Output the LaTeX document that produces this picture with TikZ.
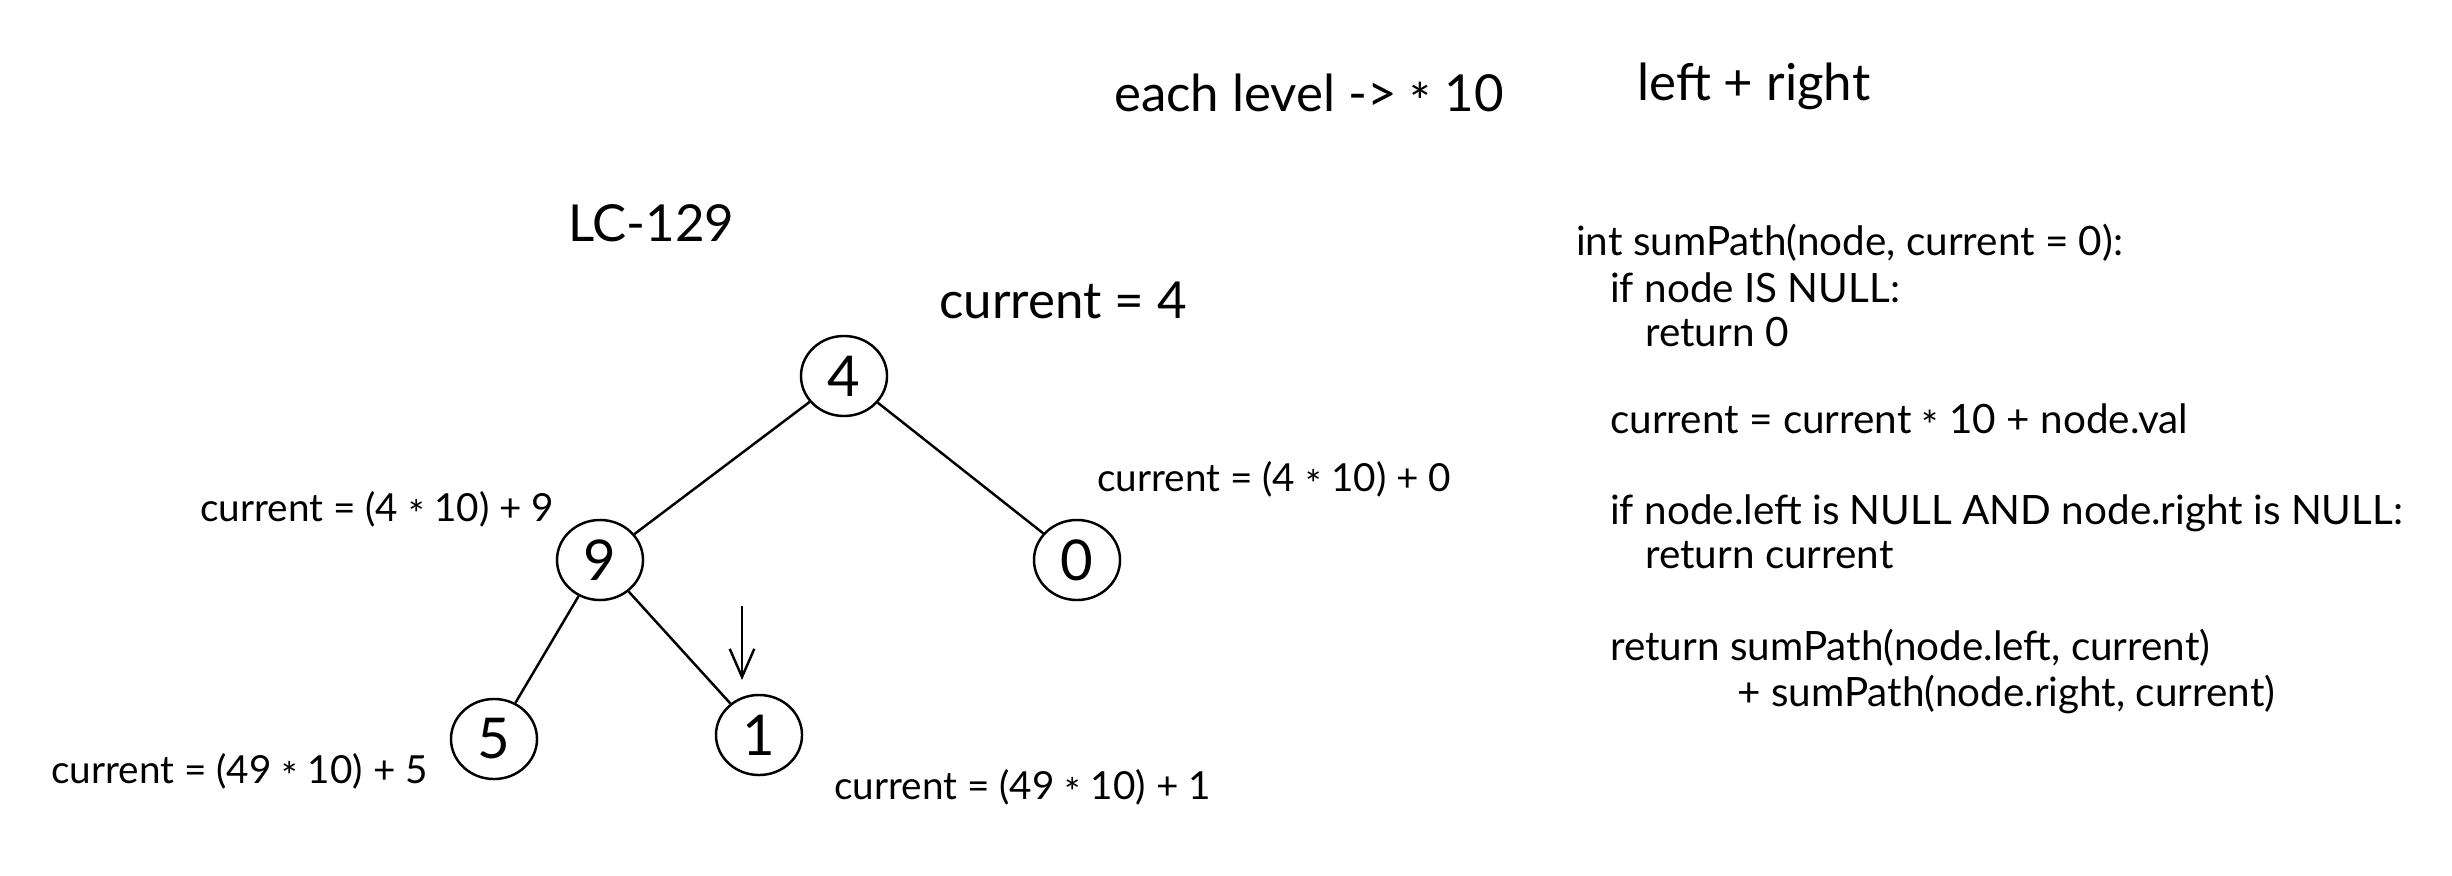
\documentclass[tikz,border=0pt]{standalone}
\usepackage{fontspec}
\setmainfont{Lato}
\usetikzlibrary{arrows.meta,shapes.geometric}
\newcommand{\mulsign}{\raisebox{-0.35ex}{*}}

\begin{document}
\begin{tikzpicture}[x=0.01cm,y=-0.01cm,line width=0.7pt,>={Straight Barb[length=8pt,width=7pt]},
	vertex/.style={draw,ellipse,minimum width=0.86cm,minimum height=0.8cm,inner sep=0pt,font=\fontsize{16}{18}\selectfont},
	headline/.style={anchor=west,inner sep=0pt,font=\fontsize{14.5}{17}\selectfont},
	note/.style={anchor=west,inner sep=0pt,font=\fontsize{11}{13}\selectfont},
	codeline/.style={anchor=west,inner sep=0pt,font=\fontsize{11.5}{13}\selectfont}]
	\useasboundingbox (0,0) rectangle (2452,876);
	% titles
	\node[headline] (level) at (1113,97) {each level -> \mulsign{} 10};
	\node[headline] (sides) at (1636,86) {left + right};
	\node[headline] (lc) at (567,223) {LC-129};
	\node[headline] (start) at (938,300) {current = 4};
	% tree
	\node[vertex] (n4) at (844,376) {4};
	\node[vertex] (n9) at (600,560) {9};
	\node[vertex] (n0) at (1077,560) {0};
	\node[vertex] (n5) at (494,739) {5};
	\node[vertex] (n1) at (759,735) {1};
	\draw (n4)--(n9);
	\draw (n4)--(n0);
	\draw (n9)--(n5);
	\draw (n9)--(n1);
	\coordinate (ptrtop) at (742,606);
	\coordinate (ptrtip) at (742,680);
	\draw[->] (ptrtop)--(ptrtip);
	% sums along the path
	\node[note] (s9) at (199,510) {current = (4 \mulsign{} 10) + 9};
	\node[note] (s0) at (1096,480) {current = (4 \mulsign{} 10) + 0};
	\node[note] (s5) at (50,772) {current = (49 \mulsign{} 10) + 5};
	\node[note] (s1) at (833,788) {current = (49 \mulsign{} 10) + 1};
	% code
	\foreach \i/\x/\y/\t in {1/1575/243/{int sumPath(node, current = 0):},2/1609/288/{if node IS NULL:},
		3/1644/332/{return 0},4/1609/422/{current = current \mulsign{} 10 + node.val},
		5/1609/513/{if node.left is NULL AND node.right is NULL:},6/1644/555/{return current},
		7/1609/648/{return sumPath(node.left, current)},8/1736/695/{+ sumPath(node.right, current)}}
		\node[codeline] (code\i) at (\x,\y) {\t};
\end{tikzpicture}
\end{document}
